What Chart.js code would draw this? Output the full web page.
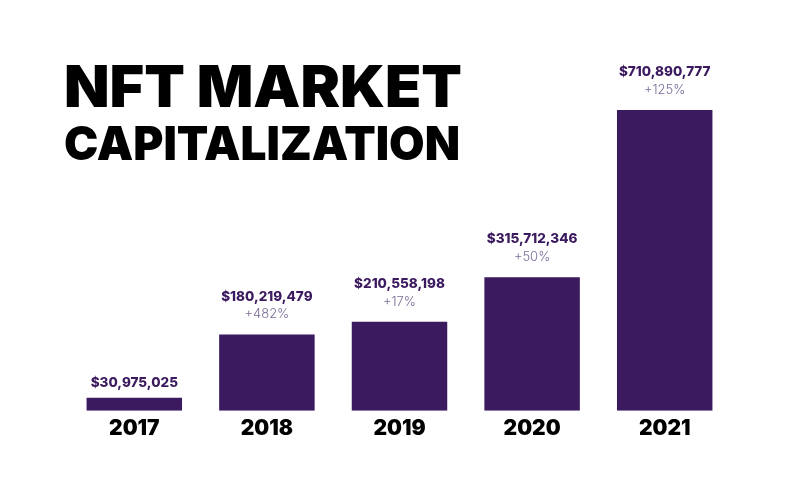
<!DOCTYPE html>
<html>
<head>
<meta charset="utf-8">
<script src="https://cdn.jsdelivr.net/npm/chart.js@4"></script>
<style>
  html, body { margin: 0; padding: 0; background: #fff; }
  #wrap { position: relative; width: 800px; height: 488px; }
</style>
</head>
<body>
<div id="wrap"><canvas id="myChart" width="800" height="488"></canvas></div>
<script>
const years = ["2017", "2018", "2019", "2020", "2021"];
const marketCap = [30975025, 180219479, 210558198, 315712346, 710890777];
const growth = ["", "+482%", "+17%", "+50%", "+125%"];
const titleLines = ["NFT MARKET", "CAPITALIZATION"];

const purple = "#3c1a60";
const heavy = "'Inter', 'Lato', 'DejaVu Sans', sans-serif";

// labels above bars + big title
const labelsPlugin = {
  id: "labels",
  afterDraw(chart) {
    const ctx = chart.ctx;
    const meta = chart.getDatasetMeta(0);
    ctx.save();
    ctx.textAlign = "center";
    ctx.textBaseline = "middle";
    meta.data.forEach((bar, i) => {
      const val = "$" + marketCap[i].toLocaleString("en-US");
      if (growth[i]) {
        ctx.font = "800 13.5px " + heavy;
        ctx.fillStyle = purple;
        ctx.fillText(val, bar.x, bar.y - 38);
        ctx.font = "300 13px " + heavy;
        ctx.fillStyle = "#7a6a96";
        ctx.fillText(growth[i], bar.x, bar.y - 20);
      } else {
        ctx.font = "800 13.5px " + heavy;
        ctx.fillStyle = purple;
        ctx.fillText(val, bar.x, bar.y - 15);
      }
    });

    // title
    ctx.textAlign = "left";
    ctx.textBaseline = "alphabetic";
    ctx.fillStyle = "#000";
    const drawFit = (txt, size, x, y, w) => {
      ctx.font = "900 " + size + "px " + heavy;
      const m = ctx.measureText(txt).width;
      ctx.save();
      ctx.translate(x, y);
      ctx.scale(w / m, 1);
      ctx.fillText(txt, 0, 0);
      ctx.restore();
    };
    drawFit(titleLines[0], 58, 64, 107, 398);
    drawFit(titleLines[1], 47, 64, 160, 396);
    ctx.restore();
  }
};

const ctx = document.getElementById("myChart").getContext("2d");
new Chart(ctx, {
  type: "bar",
  data: {
    labels: years,
    datasets: [{
      data: marketCap,
      backgroundColor: purple,
      borderWidth: 0,
      barPercentage: 0.72,
      categoryPercentage: 1
    }]
  },
  options: {
    responsive: false,
    animation: false,
    layout: { padding: { left: 68, right: 69, top: 30, bottom: 42 } },
    plugins: {
      legend: { display: false },
      tooltip: { enabled: false }
    },
    scales: {
      x: {
        grid: { display: false, drawTicks: false },
        border: { display: false },
        ticks: {
          color: "#000",
          padding: 5,
          font: { family: heavy, size: 21, weight: "900" }
        }
      },
      y: {
        display: false,
        min: 0,
        max: 900000000
      }
    }
  },
  plugins: [labelsPlugin]
});
</script>
</body>
</html>
